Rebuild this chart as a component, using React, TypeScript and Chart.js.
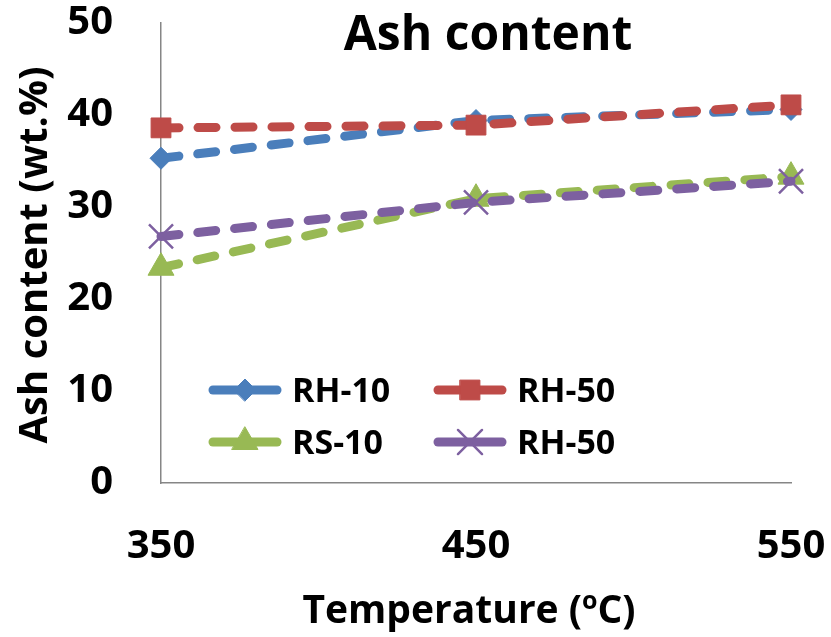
import React, { useEffect, useRef } from 'react';
import { Chart, registerables } from 'chart.js';
import { drawPoint } from 'chart.js/helpers';

Chart.register(...registerables);

const categories = ['350', '450', '550'];
const seriesNames = ['RH-10', 'RH-50', 'RS-10', 'RH-50'];
const rh10 = [35.3, 39.4, 40.6];
const rh50 = [38.6, 38.9, 41.1];
const rs10 = [23.4, 30.9, 33.3];
const rh50b = [26.8, 30.5, 32.8];
const yMin = 0;
const yMax = 50;
const yStep = 10;
const titleText = 'Ash content';
const yTitleText = 'Ash content (wt.%)';
const xTitleParts = ['Temperature (', 'o', 'C)'];

const FONT = "'Open Sans', 'Noto Sans', sans-serif";
const COLORS = ['#4A7EBB', '#BE4B48', '#98B954', '#7D60A0'];
const STYLES = ['rectRot', 'rect', 'triangle', 'crossRot'];
const RADII = [11, 14, 15, 17];
const BORDERS = [1, 1, 1, 2.5];
const LINE_W = 9;

const overlayPlugin = {
  id: 'overlay',
  afterDraw(chart: any) {
    const ctx = chart.ctx as CanvasRenderingContext2D;
    const area = chart.chartArea;
    ctx.save();
    ctx.fillStyle = '#000';
    ctx.textBaseline = 'alphabetic';

    // Chart title
    ctx.font = `bold 48px ${FONT}`;
    ctx.textAlign = 'center';
    ctx.fillText(titleText, area.left + (area.right - area.left) / 2 + 12, 50);

    // Y title
    ctx.save();
    ctx.translate(47, 255);
    ctx.rotate(-Math.PI / 2);
    ctx.font = `bold 40px ${FONT}`;
    ctx.textAlign = 'center';
    ctx.fillText(yTitleText, 0, 0);
    ctx.restore();

    // X title with superscript
    const big = `bold 39px ${FONT}`;
    const small = `bold 25px ${FONT}`;
    ctx.font = big;
    const w1 = ctx.measureText(xTitleParts[0]).width;
    const w3 = ctx.measureText(xTitleParts[2]).width;
    ctx.font = small;
    const w2 = ctx.measureText(xTitleParts[1]).width;
    const total = w1 + w2 + w3;
    let x = 469 - total / 2;
    const base = 623;
    ctx.textAlign = 'left';
    ctx.font = big;
    ctx.fillText(xTitleParts[0], x, base);
    x += w1;
    ctx.font = small;
    ctx.fillText(xTitleParts[1], x, base - 14);
    x += w2;
    ctx.font = big;
    ctx.fillText(xTitleParts[2], x, base);

    // Legend
    const cols = [213, 438];
    const rows = [390, 442];
    const lineLen = 64;
    seriesNames.forEach((name, i) => {
      const cx = cols[i % 2];
      const cy = rows[Math.floor(i / 2)];
      ctx.save();
      ctx.strokeStyle = COLORS[i];
      ctx.fillStyle = COLORS[i];
      ctx.lineWidth = LINE_W;
      ctx.lineCap = 'round';
      ctx.beginPath();
      ctx.moveTo(cx, cy);
      ctx.lineTo(cx + lineLen, cy);
      ctx.stroke();
      ctx.lineWidth = BORDERS[i];
      drawPoint(ctx, { pointStyle: STYLES[i], rotation: 0, radius: RADII[i], borderWidth: BORDERS[i] } as any, cx + lineLen / 2, cy);
      ctx.restore();
      ctx.font = `bold 34px ${FONT}`;
      ctx.textAlign = 'left';
      ctx.fillStyle = '#000';
      ctx.fillText(name, cx + 79, cy + 12);
    });

    ctx.restore();
  },
};

export default function App() {
  const ref = useRef<HTMLCanvasElement>(null);
  useEffect(() => {
    if (!ref.current) return;
    const seriesData = [rh10, rh50, rs10, rh50b];
    const orders = [3, 2, 1, 0];
    const chart = new Chart(ref.current, {
      type: 'line',
      data: {
        labels: categories,
        datasets: seriesData.map((d, i) => ({
          label: seriesNames[i],
          data: d,
          borderColor: COLORS[i],
          backgroundColor: COLORS[i],
          borderWidth: LINE_W,
          borderDash: [18, 19],
          borderCapStyle: 'round' as const,
          tension: 0,
          pointStyle: STYLES[i] as any,
          pointRadius: RADII[i],
          pointBorderWidth: BORDERS[i],
          pointBackgroundColor: COLORS[i],
          pointBorderColor: COLORS[i],
          order: orders[i],
        })),
      },
      options: {
        animation: false,
        responsive: false,
        layout: { padding: { left: 0, right: 40, top: 23, bottom: 0 } },
        plugins: {
          legend: { display: false },
          title: { display: false },
          tooltip: { enabled: false },
        },
        scales: {
          x: {
            type: 'category',
            offset: false,
            grid: { display: false, drawTicks: false },
            border: { display: true, color: '#868686', width: 1.5 },
            ticks: {
              color: '#000',
              font: { family: FONT, size: 40, weight: 'bold', lineHeight: 1.1 },
              padding: 42,
              maxRotation: 0,
              autoSkip: false,
            },
            afterFit: (s: any) => {
              s.height = 154;
              s.paddingLeft = 0;
              s.paddingRight = 0;
            },
          },
          y: {
            min: yMin,
            max: yMax,
            grid: { display: false, drawTicks: false },
            border: { display: true, color: '#868686', width: 1.5 },
            ticks: {
              stepSize: yStep,
              color: '#000',
              font: { family: FONT, size: 40, weight: 'bold', lineHeight: 1.1 },
              padding: 48,
            },
            afterFit: (s: any) => {
              s.width = 161;
              s.paddingTop = 0;
              s.paddingBottom = 0;
            },
          },
        },
      },
      plugins: [overlayPlugin],
    });
    return () => chart.destroy();
  }, []);
  return (
    <div style={{ position: 'absolute', left: 0, top: 0, width: 831, height: 637, background: '#fff' }}>
      <canvas ref={ref} width={831} height={637} />
    </div>
  );
}
